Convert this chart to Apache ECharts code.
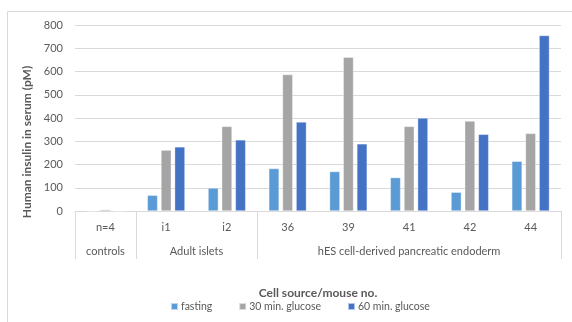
<!DOCTYPE html>
<html>
<head>
<meta charset="utf-8">
<script src="https://cdn.jsdelivr.net/npm/echarts@6/dist/echarts.min.js"></script>
<style>
  html, body { margin: 0; padding: 0; background: #fff; }
  #chart { width: 572px; height: 322px; }
</style>
</head>
<body>
<div id="chart"></div>
<script>
// categories (inner level) and their groups (outer level)
var categories = ['n=4', 'i1', 'i2', '36', '39', '41', '42', '44'];
var groups = ['controls', 'Adult islets', 'hES cell-derived pancreatic endoderm'];
var groupSizes = [1, 2, 5];

var fasting = [0, 68, 99, 183, 170, 144, 81, 214];
var glucose30 = [6, 262, 364, 587, 662, 364, 387, 334];
var glucose60 = [0, 276, 306, 383, 289, 400, 330, 755];

var yTicks = [0, 100, 200, 300, 400, 500, 600, 700, 800];

// boundaries and centres of the outer groups, in category units
var bounds = [0];
var centres = [];
groupSizes.forEach(function (n, i) {
  var start = bounds[i];
  bounds.push(start + n);
  centres.push(start + n / 2);
});

var chart = echarts.init(document.getElementById('chart'));
var font = 'Lato, "Open Sans", sans-serif';

function bar(name, data, color) {
  return {
    name: name,
    type: 'bar',
    data: data,
    barGap: '32%',
    barCategoryGap: '38%',
    itemStyle: { color: color, borderColor: 'rgba(255,255,255,0.6)', borderWidth: 0.6 },
    emphasis: { disabled: true }
  };
}

var option = {
  animation: false,
  textStyle: { fontFamily: font },
  graphic: [{
    type: 'rect',
    shape: { x: 7.5, y: 11.5, width: 700, height: 500 },
    style: { fill: 'none', stroke: '#D9D9D9', lineWidth: 1 },
    silent: true
  }],
  grid: { left: 75, right: 11, top: 25, bottom: 111 },
  legend: {
    bottom: 5,
    left: 165,
    itemWidth: 7,
    itemHeight: 7,
    itemGap: 26,
    icon: 'rect',
    textStyle: { color: '#595959', fontSize: 10.5, fontFamily: font, padding: [0, 0, 0, -2] },
    data: ['fasting', '30 min. glucose', '60 min. glucose']
  },
  xAxis: [{
    type: 'category',
    data: categories,
    axisLine: { lineStyle: { color: '#D9D9D9' } },
    axisTick: { show: false },
    axisLabel: { color: '#595959', fontSize: 11, margin: 11 },
    name: 'Cell source/mouse no.',
    nameLocation: 'middle',
    nameGap: 76,
    nameTextStyle: { color: '#595959', fontSize: 12, fontWeight: 'bold' }
  }, {
    type: 'value',
    position: 'bottom',
    min: 0,
    max: categories.length,
    axisLine: { show: false },
    splitLine: { show: false },
    axisTick: {
      show: true,
      customValues: bounds,
      length: 48,
      lineStyle: { color: '#D9D9D9' }
    },
    axisLabel: {
      customValues: centres,
      color: '#595959',
      fontSize: 11,
      margin: 35,
      formatter: function (v) {
        var i = centres.indexOf(v);
        return i >= 0 ? groups[i] : '';
      }
    }
  }],
  yAxis: {
    type: 'value',
    min: 0,
    max: 800,
    interval: 100,
    axisLine: { show: false },
    axisTick: { show: false },
    splitLine: { lineStyle: { color: '#D9D9D9' } },
    axisLabel: {
      color: '#595959', fontSize: 11, margin: 12,
      formatter: function (v) { return yTicks.indexOf(v) >= 0 ? v : ''; }
    },
    name: 'Human insulin in serum (pM)',
    nameLocation: 'middle',
    nameGap: 38,
    nameTextStyle: { color: '#595959', fontSize: 12, fontWeight: 'bold', padding: [0, 0, 0, -48] }
  },
  series: [
    bar('fasting', fasting, '#5B9BD5'),
    bar('30 min. glucose', glucose30, '#A5A5A5'),
    bar('60 min. glucose', glucose60, '#4472C4')
  ]
};

chart.setOption(option);
</script>
</body>
</html>
